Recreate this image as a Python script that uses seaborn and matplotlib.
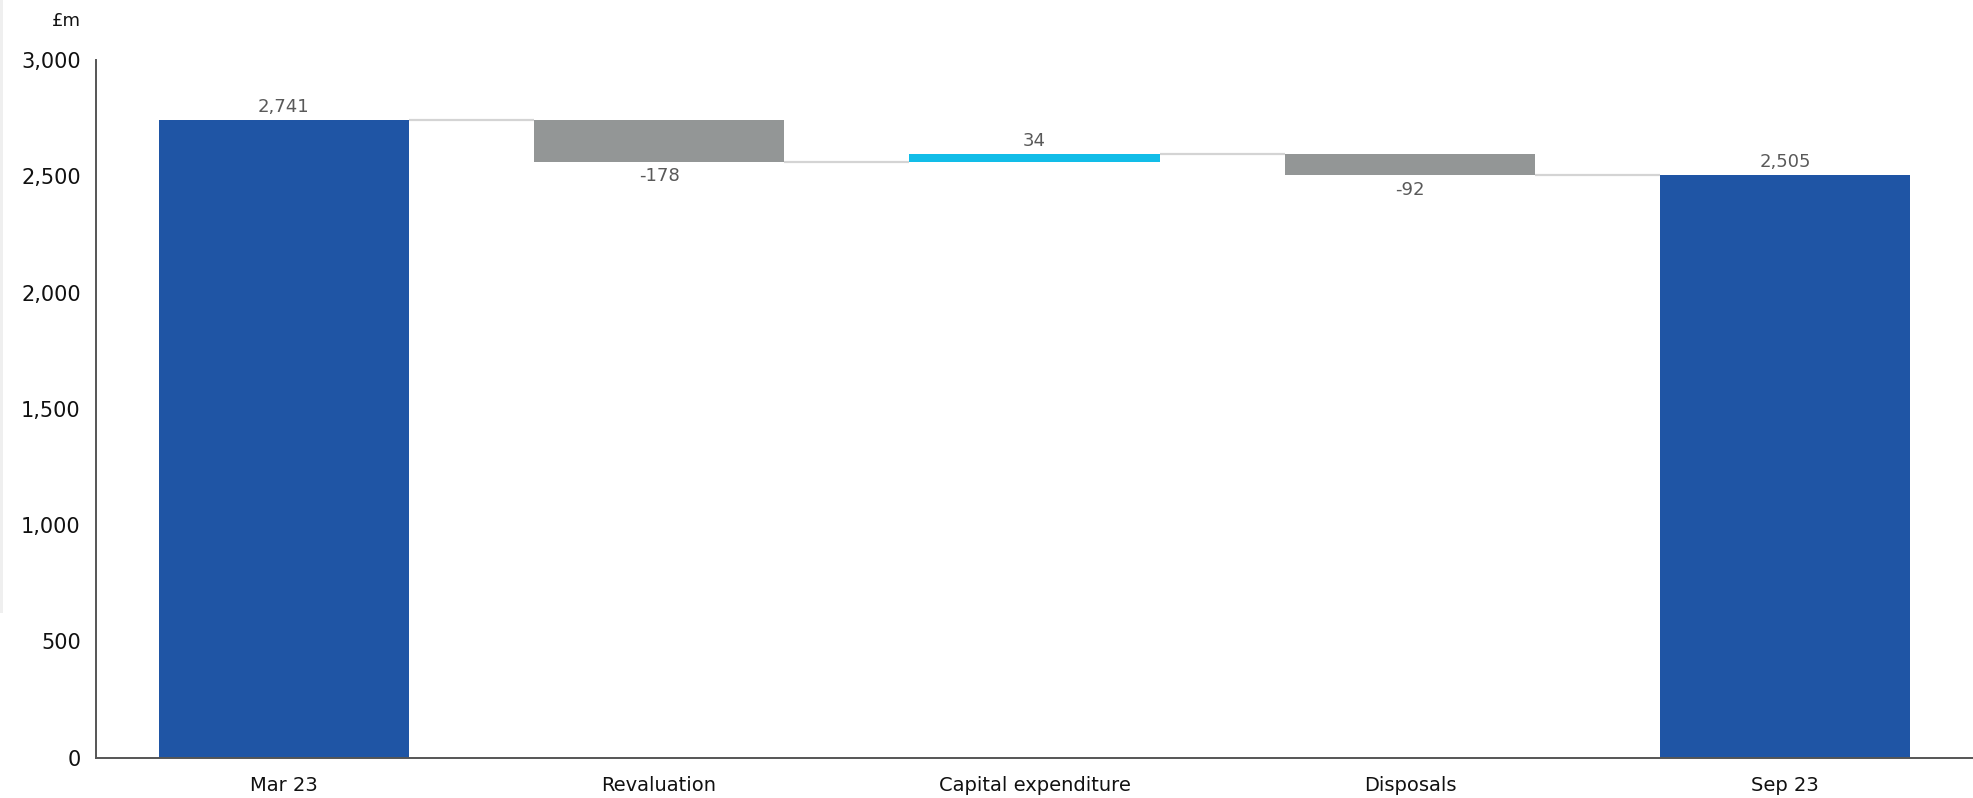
import numpy as np
import pandas as pd
import matplotlib
matplotlib.use("Agg")
import matplotlib.pyplot as plt
import seaborn as sns
from matplotlib.patches import Rectangle

categories = ["Mar 23", "Revaluation", "Capital expenditure", "Disposals", "Sep 23"]
values = [2741, -178, 34, -92, 2505]
kinds = ["total", "delta", "delta", "delta", "total"]
value_labels = ["2,741", "-178", "34", "-92", "2,505"]
y_ticks = [0, 500, 1000, 1500, 2000, 2500, 3000]
y_tick_labels = ["0", "500", "1,000", "1,500", "2,000", "2,500", "3,000"]

BLUE = "#1F55A5"
GREY = "#939696"
CYAN = "#12BDE8"

# compute floating bar geometry
bottoms, heights, tops_run = [], [], []
running = 0.0
for v, k in zip(values, kinds):
    if k == "total":
        bottoms.append(0.0)
        heights.append(v)
        running = v
    else:
        new = running + v
        bottoms.append(min(running, new))
        heights.append(abs(v))
        running = new
    tops_run.append(running)

colors = []
for v, k in zip(values, kinds):
    if k == "total":
        colors.append(BLUE)
    elif v < 0:
        colors.append(GREY)
    else:
        colors.append(CYAN)

df = pd.DataFrame({"category": categories, "height": heights})

sns.set_theme(style="white")
plt.rcParams["font.family"] = ["DejaVu Sans"]

fig = plt.figure(figsize=(19.73, 7.98), dpi=100)
ax = fig.add_axes([96 / 1973, 1 - 757.5 / 798, 1 - 96 / 1973, (757.5 - 60) / 798])

sns.barplot(data=df, x="category", y="height", hue="category", order=categories,
            hue_order=categories, palette=dict(zip(categories, colors)),
            legend=False, width=0.667, saturation=1, ax=ax, errorbar=None)

w = 0.667
for p, b, h in zip(ax.patches, bottoms, heights):
    p.set_y(b)
    p.set_height(h)
    p.set_edgecolor("none")

# connectors
for i in range(len(categories) - 1):
    lvl = tops_run[i]
    ax.plot([i + w / 2, i + 1 - w / 2], [lvl, lvl], color="#d4d4d4", lw=1.6,
            zorder=1, solid_capstyle="butt")

# value labels
for i, (v, k) in enumerate(zip(values, kinds)):
    if v >= 0:
        y = bottoms[i] + heights[i]
        ax.annotate(value_labels[i], (i, y), xytext=(0, 3), textcoords="offset points",
                    ha="center", va="bottom", fontsize=13, color="#595959")
    else:
        y = bottoms[i]
        ax.annotate(value_labels[i], (i, y), xytext=(0, -4), textcoords="offset points",
                    ha="center", va="top", fontsize=13, color="#595959")

ax.set_xlim(-0.5, 4.5)
ax.set_ylim(0, 3000)
ax.set_yticks(y_ticks)
ax.set_yticklabels(y_tick_labels)
ax.set_xlabel("")
ax.set_ylabel("")
ax.tick_params(axis="both", length=0, colors="#111111")
ax.tick_params(axis="y", pad=11, labelsize=15)
ax.tick_params(axis="x", pad=13, labelsize=14)
for s in ["top", "right"]:
    ax.spines[s].set_visible(False)
for s in ["left", "bottom"]:
    ax.spines[s].set_color("#555555")
    ax.spines[s].set_linewidth(1.4)
ax.grid(False)

fig.text(81 / 1973, 1 - 21 / 798, "£m", ha="right", va="center", fontsize=13, color="#111111")
fig.patches.append(Rectangle((0, 1 - 613 / 798), 3 / 1973, 613 / 798, transform=fig.transFigure,
                             facecolor="#efefef", edgecolor="none", zorder=-1))

fig.savefig("out.png", dpi=100)
